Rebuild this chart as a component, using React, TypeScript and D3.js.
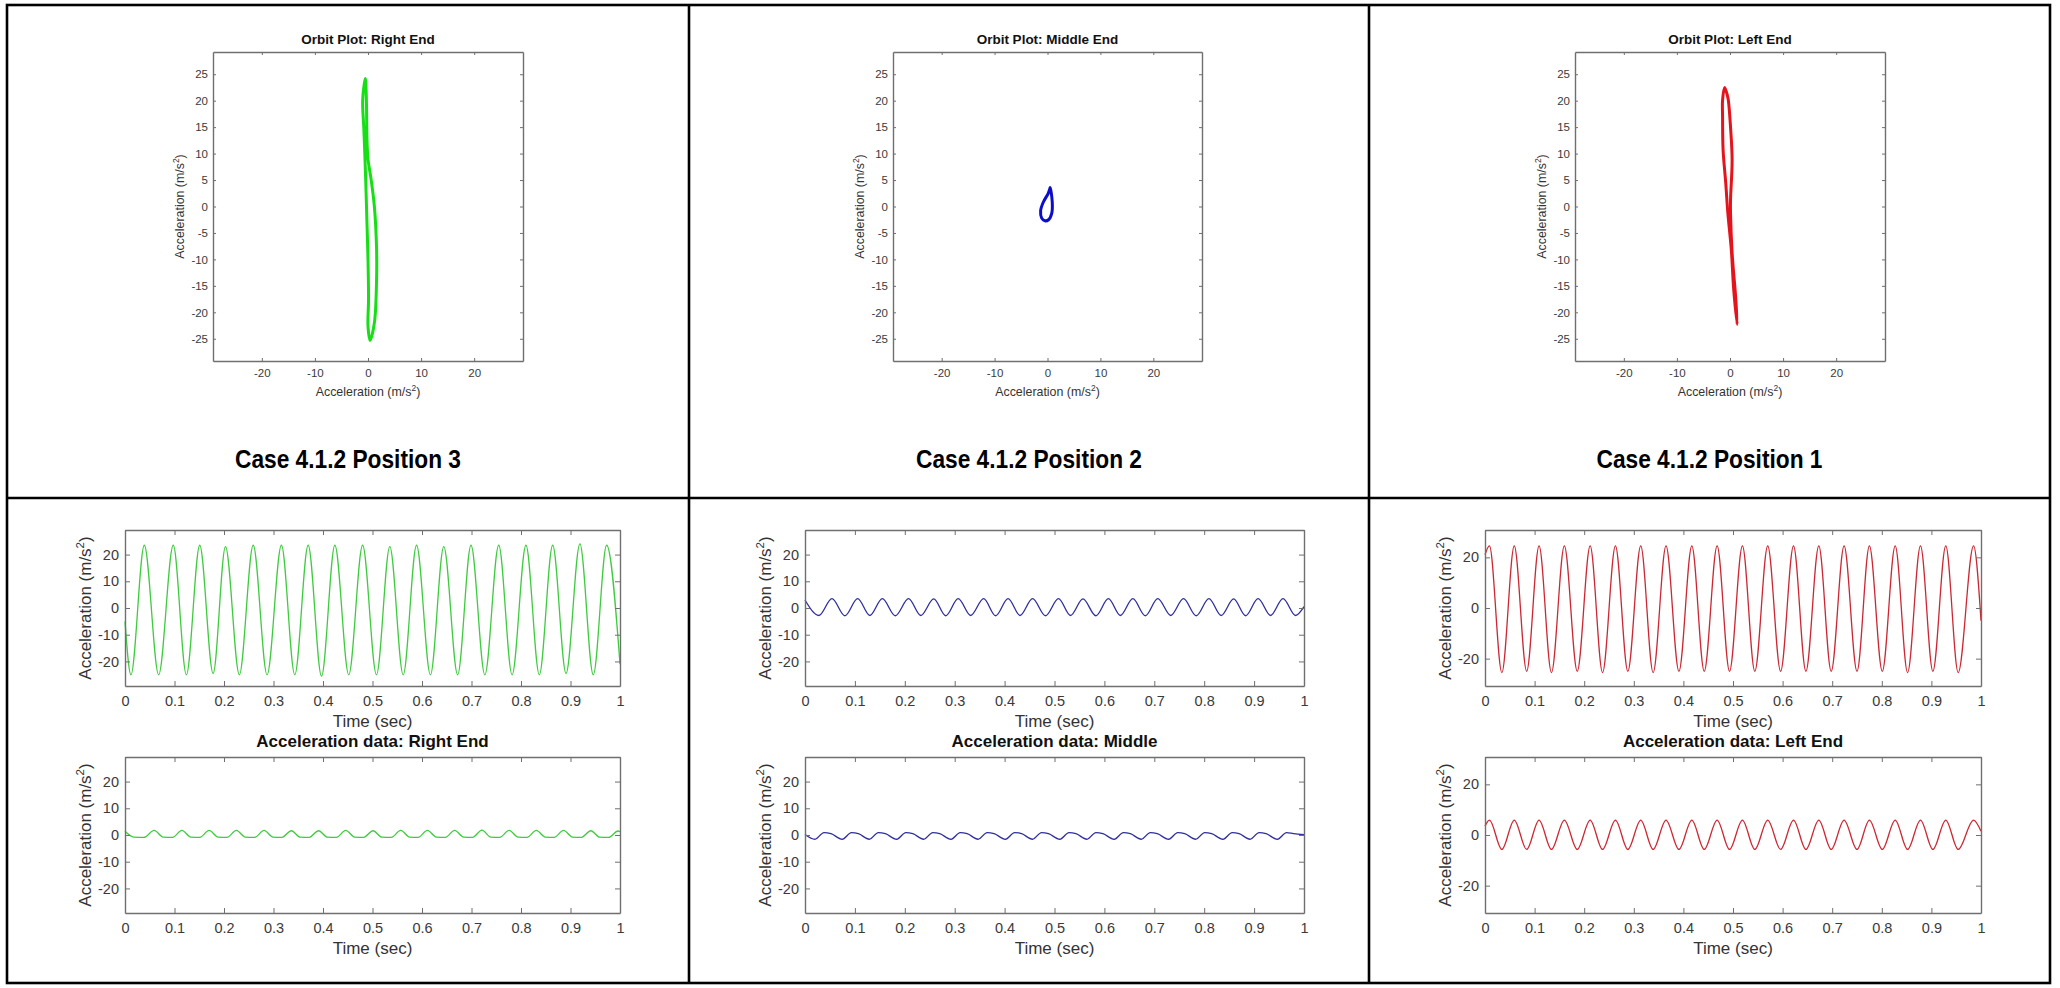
import React, { useEffect, useRef } from 'react';
import * as d3 from 'd3';

type Pt = [number, number];

const W = 2060;
const H = 988;

// ---- tick values / limits ----
const orbitTicksX = [-20, -10, 0, 10, 20];
const orbitTicksY = [-25, -20, -15, -10, -5, 0, 5, 10, 15, 20, 25];
const timeTicks = [0, 0.1, 0.2, 0.3, 0.4, 0.5, 0.6, 0.7, 0.8, 0.9, 1];
const accTicksFine = [-20, -10, 0, 10, 20];
const accTicksCoarse = [-20, 0, 20];
const orbitLim = 29.2;
const accLimA = 29.2;
const accLimB = 30.8;

// ---- text ----
const orbitTitles = ['Orbit Plot: Right End', 'Orbit Plot: Middle End', 'Orbit Plot: Left End'];
const caseLabels = ['Case 4.1.2 Position 3', 'Case 4.1.2 Position 2', 'Case 4.1.2 Position 1'];
const dataTitles = ['Acceleration data: Right End', 'Acceleration data: Middle', 'Acceleration data: Left End'];

// ---- orbit loops: [horizontal accel, vertical accel] ----
const orbitRightEnd: Pt[] = [
  [-0.5, 24.2], [-1.0, 20.1], [-0.8, 15], [-0.6, 10], [-0.4, 4], [-0.2, -3], [0.0, -10],
  [0.1, -17.6], [0.0, -22.6], [0.4, -25.3], [1.2, -22], [1.6, -14.5], [1.6, -7.5], [1.2, 0],
  [0.6, 5], [0.0, 9], [-0.2, 13], [-0.3, 20],
];
const orbitMiddle: Pt[] = [
  [0.5, 3.6], [0.9, 0.8], [0.8, -1.3], [0.2, -2.5], [-0.5, -2.7], [-1.1, -2.2],
  [-1.3, -0.8], [-0.8, 0.8], [0.1, 2.4], [0.4, 3.2],
];
const orbitLeftEnd: Pt[] = [
  [-1.0, 22.5], [-0.5, 21], [-0.3, 20], [0.1, 15], [0.4, 8.8], [0.1, 1.3], [0.1, -1.3],
  [0.4, -8.8], [1.1, -17.6], [1.35, -22.3], [0.7, -15.7], [0.25, -8.2], [-0.4, -1.3],
  [-0.8, 4.4], [-1.3, 10.7], [-1.4, 17], [-1.4, 20.1],
];

// ---- time series turning points: [time s, accel m/s^2] ----
const rightEndTop: Pt[] = [
  [0, -5], [0.012, -25], [0.039, 23.5], [0.068, -25], [0.0975, 23.5], [0.124, -25], [0.151, 23.5],
  [0.178, -24.5], [0.203, 23], [0.231, -25], [0.259, 23.5], [0.287, -25], [0.316, 23.5], [0.343, -25],
  [0.370, 23.5], [0.397, -25.5], [0.424, 23.5], [0.452, -25], [0.480, 23.5], [0.508, -25], [0.535, 23],
  [0.562, -25], [0.589, 23.5], [0.617, -25], [0.644, 23], [0.672, -25], [0.699, 23.5], [0.727, -25],
  [0.755, 23.5], [0.782, -25], [0.810, 23.5], [0.837, -25], [0.864, 23.5], [0.891, -24.5], [0.919, 24],
  [0.946, -25], [0.973, 23.5], [1.0, -21],
];
const rightEndBottom: Pt[] = [
  [0, 1.4], [0.018, -0.8], [0.038, -0.9], [0.059, 1.7], [0.077, -0.8], [0.096, -0.9], [0.115, 1.7],
  [0.133, -0.8], [0.151, -0.9], [0.170, 1.7], [0.188, -0.8], [0.206, -0.9], [0.225, 1.7], [0.243, -0.8],
  [0.262, -0.9], [0.281, 1.7], [0.299, -0.8], [0.317, -0.9], [0.336, 1.6], [0.354, -0.8], [0.372, -0.9],
  [0.391, 1.6], [0.409, -0.8], [0.427, -0.9], [0.446, 1.7], [0.464, -0.8], [0.482, -0.9], [0.501, 1.6],
  [0.519, -0.8], [0.538, -0.9], [0.557, 1.7], [0.575, -0.8], [0.592, -0.9], [0.611, 1.7], [0.629, -0.8],
  [0.647, -0.9], [0.666, 1.7], [0.684, -0.8], [0.702, -0.9], [0.721, 1.8], [0.739, -0.8], [0.757, -0.9],
  [0.776, 1.7], [0.794, -0.8], [0.812, -0.9], [0.831, 1.7], [0.849, -0.8], [0.867, -0.9], [0.886, 1.7],
  [0.904, -0.8], [0.922, -0.9], [0.941, 1.6], [0.959, -0.8], [0.977, -0.9], [0.996, 1.5], [1.0, 1.3],
];
const middleTop: Pt[] = [
  [0, 3.0], [0.028, -2.8], [0.054, 3.5], [0.080, -2.9], [0.1055, 3.5], [0.130, -2.8], [0.155, 3.5],
  [0.181, -2.9], [0.2075, 3.5], [0.232, -2.8], [0.258, 3.4], [0.282, -2.9], [0.307, 3.5], [0.332, -2.8],
  [0.358, 3.5], [0.382, -2.9], [0.407, 3.5], [0.431, -2.8], [0.456, 3.5], [0.482, -2.9], [0.508, 3.5],
  [0.532, -2.8], [0.557, 3.4], [0.583, -2.9], [0.608, 3.5], [0.632, -2.8], [0.657, 3.5], [0.682, -2.9],
  [0.707, 3.5], [0.733, -2.8], [0.7585, 3.5], [0.784, -2.9], [0.8095, 3.5], [0.834, -2.8], [0.859, 3.4],
  [0.883, -2.9], [0.908, 3.5], [0.933, -2.8], [0.958, 3.5], [0.983, -2.8], [1.0, 0.5],
];
const middleBottom: Pt[] = [
  [0, 0.2], [0.020, -1.6], [0.038, 0.9], [0.052, 0.5], [0.0745, -1.6], [0.093, 0.9], [0.107, 0.5],
  [0.129, -1.6], [0.147, 0.9], [0.161, 0.5], [0.1835, -1.6], [0.202, 0.9], [0.216, 0.5], [0.238, -1.6],
  [0.256, 0.9], [0.270, 0.5], [0.2925, -1.6], [0.311, 0.9], [0.325, 0.5], [0.347, -1.6], [0.365, 0.9],
  [0.379, 0.5], [0.4015, -1.6], [0.420, 0.9], [0.434, 0.5], [0.456, -1.6], [0.474, 0.9], [0.488, 0.5],
  [0.5105, -1.6], [0.529, 0.9], [0.543, 0.5], [0.565, -1.6], [0.583, 0.9], [0.597, 0.5], [0.6195, -1.6],
  [0.638, 0.9], [0.652, 0.5], [0.674, -1.6], [0.692, 0.9], [0.706, 0.5], [0.7285, -1.6], [0.747, 0.9],
  [0.761, 0.5], [0.783, -1.6], [0.801, 0.9], [0.815, 0.5], [0.8375, -1.6], [0.856, 0.9], [0.870, 0.5],
  [0.892, -1.6], [0.910, 0.9], [0.924, 0.5], [0.9465, -1.6], [0.965, 0.9], [0.979, 0.5], [1.0, 0.1],
];
const leftEndTop: Pt[] = [
  [0, 21], [0.009, 24.5], [0.034, -25.5], [0.059, 24.5], [0.084, -25], [0.109, 24.5], [0.134, -25.5],
  [0.160, 24.5], [0.186, -25], [0.212, 24.5], [0.237, -25.5], [0.263, 24.5], [0.288, -25], [0.314, 24.5],
  [0.339, -25.5], [0.365, 24.5], [0.391, -25], [0.417, 24.5], [0.442, -25], [0.468, 24.5], [0.493, -25],
  [0.519, 24.5], [0.544, -25], [0.570, 24.5], [0.596, -25], [0.622, 24.5], [0.647, -25], [0.673, 24.5],
  [0.698, -25], [0.724, 24.5], [0.750, -25], [0.775, 24.5], [0.801, -25], [0.827, 24.5], [0.852, -25.5],
  [0.878, 24.5], [0.903, -25], [0.929, 24.5], [0.954, -25.5], [0.985, 24.5], [1.0, -5],
];
const leftEndBottom: Pt[] = [
  [0, 3.5], [0.009, 5.9], [0.034, -5.7], [0.059, 5.9], [0.084, -5.7], [0.109, 5.9], [0.134, -5.7],
  [0.160, 5.9], [0.186, -5.7], [0.212, 5.9], [0.237, -5.7], [0.263, 5.9], [0.288, -5.7], [0.314, 5.9],
  [0.339, -5.7], [0.365, 5.9], [0.391, -5.7], [0.417, 5.9], [0.442, -5.7], [0.468, 5.9], [0.493, -5.7],
  [0.519, 5.9], [0.544, -5.7], [0.570, 5.9], [0.596, -5.7], [0.622, 5.9], [0.647, -5.7], [0.673, 5.9],
  [0.698, -5.7], [0.724, 5.9], [0.750, -5.7], [0.775, 5.9], [0.801, -5.7], [0.827, 5.9], [0.852, -5.7],
  [0.878, 5.9], [0.903, -5.7], [0.929, 5.9], [0.954, -5.7], [0.985, 5.9], [1.0, 1.5],
];

const FONT = '"Liberation Sans", Arial, Helvetica, sans-serif';
const AXIS = '#6f6f6f';
const TICK_TEXT = '#3a3a3a';

// superscripted unit label
const accelLabel = (text: any, fs: number) => {
  text.append('tspan').text('Acceleration (m/s');
  text.append('tspan').attr('dy', -fs * 0.42).attr('font-size', fs * 0.68).text('2');
  text.append('tspan').attr('dy', fs * 0.42).text(')');
};

const drawFrame = (g: any, x: any, y: any, xTicks: number[], yTicks: number[], o: any) => {
  const [x0, x1] = x.range();
  const [yb, yt] = y.range();
  const style = (sel: any) => {
    sel.attr('color', AXIS).attr('font-family', FONT).attr('font-size', o.fs);
    sel.select('.domain').attr('stroke-width', 1.4);
    sel.selectAll('.tick line').attr('stroke-width', 1);
    sel.selectAll('text').attr('fill', TICK_TEXT);
  };
  const fmt = (d: any) => String(d);
  g.append('g').attr('transform', `translate(0,${yb})`)
    .call(d3.axisBottom(x).tickValues(xTicks).tickSize(-o.tick).tickSizeOuter(0).tickPadding(o.padX).tickFormat(fmt))
    .call(style);
  g.append('g').attr('transform', `translate(0,${yt})`)
    .call(d3.axisTop(x).tickValues(xTicks).tickSize(-o.tick).tickSizeOuter(0).tickFormat(() => ''))
    .call(style);
  g.append('g').attr('transform', `translate(${x0},0)`)
    .call(d3.axisLeft(y).tickValues(yTicks).tickSize(-o.tick).tickSizeOuter(0).tickPadding(o.padY).tickFormat(fmt))
    .call(style);
  g.append('g').attr('transform', `translate(${x1},0)`)
    .call(d3.axisRight(y).tickValues(yTicks).tickSize(-o.tick).tickSizeOuter(0).tickFormat(() => ''))
    .call(style);
};

const columns = [
  { orbit: orbitRightEnd, orbitColor: '#16df16', ox: [213, 523], tx: [125, 620],
    top: rightEndTop, bottom: rightEndBottom, lineColor: '#3fcb3f', lim: accLimA, ticks: accTicksFine },
  { orbit: orbitMiddle, orbitColor: '#0c0ccc', ox: [893, 1202], tx: [805, 1304],
    top: middleTop, bottom: middleBottom, lineColor: '#2e2e9e', lim: accLimA, ticks: accTicksFine },
  { orbit: orbitLeftEnd, orbitColor: '#e5141c', ox: [1575, 1885], tx: [1485, 1981],
    top: leftEndTop, bottom: leftEndBottom, lineColor: '#cc2833', lim: accLimB, ticks: accTicksCoarse },
];

const App = () => {
  const svgRef = useRef<SVGSVGElement>(null);

  useEffect(() => {
    const svg = d3.select(svgRef.current);
    svg.selectAll('*').remove();

    svg.append('rect').attr('width', W).attr('height', H).attr('fill', '#fff');

    // table grid
    const grid = svg.append('g').attr('stroke', '#000').attr('stroke-width', 2.6).attr('fill', 'none');
    grid.append('rect').attr('x', 7).attr('y', 5).attr('width', 2043).attr('height', 978);
    grid.append('line').attr('x1', 689).attr('x2', 689).attr('y1', 5).attr('y2', 983);
    grid.append('line').attr('x1', 1369).attr('x2', 1369).attr('y1', 5).attr('y2', 983);
    grid.append('line').attr('x1', 7).attr('x2', 2050).attr('y1', 498).attr('y2', 498);

    const cellCenters = [348, 1029, 1709.5];

    columns.forEach((c, i) => {
      // ---------- orbit plot ----------
      const og = svg.append('g');
      const ox = d3.scaleLinear().domain([-orbitLim, orbitLim]).range(c.ox);
      const oy = d3.scaleLinear().domain([-orbitLim, orbitLim]).range([361, 52]);
      const ocx = (c.ox[0] + c.ox[1]) / 2;

      const loop = d3.line<Pt>().x(d => ox(d[0])).y(d => oy(d[1])).curve(d3.curveCatmullRomClosed.alpha(0.5));
      og.append('path').datum(c.orbit).attr('d', loop).attr('fill', 'none')
        .attr('stroke', c.orbitColor).attr('stroke-width', 3).attr('stroke-linejoin', 'round');

      drawFrame(og, ox, oy, orbitTicksX, orbitTicksY, { fs: 11.5, tick: 3, padX: 8, padY: 5 });

      og.append('text').attr('x', ocx).attr('y', 44).attr('text-anchor', 'middle')
        .attr('font-family', FONT).attr('font-weight', 'bold').attr('font-size', 13.5).attr('fill', '#111')
        .text(orbitTitles[i]);
      accelLabel(og.append('text').attr('x', ocx).attr('y', 396).attr('text-anchor', 'middle')
        .attr('font-family', FONT).attr('font-size', 12.4).attr('fill', '#333'), 12.4);
      accelLabel(og.append('text').attr('transform', `translate(${c.ox[0] - 29},206.5) rotate(-90)`)
        .attr('text-anchor', 'middle').attr('font-family', FONT).attr('font-size', 12.4).attr('fill', '#333'), 12.4);

      // condensed bold caption, squeezed to the measured width
      svg.append('text').attr('x', cellCenters[i]).attr('y', 468).attr('text-anchor', 'middle')
        .attr('font-family', FONT).attr('font-weight', 'bold').attr('font-size', 25.5).attr('fill', '#000')
        .attr('textLength', 226).attr('lengthAdjust', 'spacingAndGlyphs')
        .text(caseLabels[i]);

      // ---------- time series pair ----------
      const panels = [
        { data: c.top, y0: 530, y1: 686 },
        { data: c.bottom, y0: 757, y1: 913 },
      ];
      panels.forEach((p, k) => {
        const tg = svg.append('g');
        const tx = d3.scaleLinear().domain([0, 1]).range(c.tx);
        const ty = d3.scaleLinear().domain([-c.lim, c.lim]).range([p.y1, p.y0]);
        const line = d3.line<Pt>().x(d => tx(d[0])).y(d => ty(d[1])).curve(d3.curveMonotoneX);
        tg.append('path').datum(p.data).attr('d', line).attr('fill', 'none')
          .attr('stroke', c.lineColor).attr('stroke-width', 1.3);

        drawFrame(tg, tx, ty, timeTicks, c.ticks, { fs: 14.5, tick: 5, padX: 10, padY: 6 });

        const tcx = (c.tx[0] + c.tx[1]) / 2;
        tg.append('text').attr('x', tcx).attr('y', p.y1 + 41).attr('text-anchor', 'middle')
          .attr('font-family', FONT).attr('font-size', 17).attr('fill', '#333').text('Time (sec)');
        accelLabel(tg.append('text').attr('transform', `translate(${c.tx[0] - 34},${(p.y0 + p.y1) / 2}) rotate(-90)`)
          .attr('text-anchor', 'middle').attr('font-family', FONT).attr('font-size', 17).attr('fill', '#333'), 17);
        if (k === 1) {
          tg.append('text').attr('x', tcx).attr('y', p.y0 - 10).attr('text-anchor', 'middle')
            .attr('font-family', FONT).attr('font-weight', 'bold').attr('font-size', 17).attr('fill', '#111')
            .text(dataTitles[i]);
        }
      });
    });
  }, []);

  return (
    <div style={{ position: 'absolute', left: 0, top: 0 }}>
      <svg ref={svgRef} width={W} height={H} style={{ display: 'block' }}></svg>
    </div>
  );
};

export default App;
